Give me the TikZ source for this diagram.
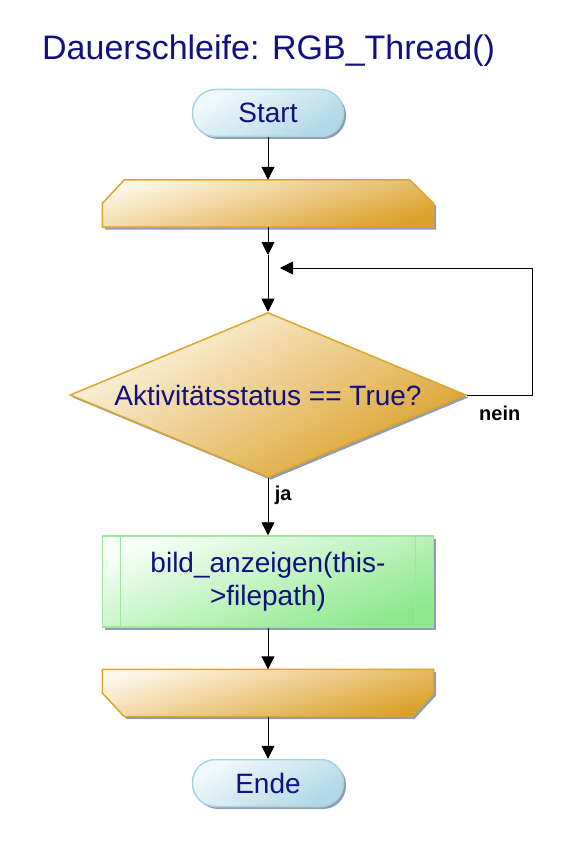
\documentclass[tikz,border=0pt]{standalone}
\usepackage{fontspec}
\setmainfont{Liberation Sans}
\usetikzlibrary{positioning}
\usetikzlibrary{arrows.meta}
\usetikzlibrary{shapes.geometric}
\usetikzlibrary{shadows}
\definecolor{textblau}{RGB}{16,16,128}
\definecolor{termrand}{RGB}{166,212,228}
\definecolor{termhell}{RGB}{242,249,252}
\definecolor{termdunkel}{RGB}{176,216,230}
\definecolor{goldrand}{RGB}{220,165,46}
\definecolor{goldhell}{RGB}{253,247,232}
\definecolor{golddunkel}{RGB}{219,160,40}
\definecolor{gruenrand}{RGB}{157,232,157}
\definecolor{gruenhell}{RGB}{246,255,246}
\definecolor{gruendunkel}{RGB}{140,232,140}
\definecolor{schatten}{RGB}{130,146,166}
\tikzset{flow/.style = {-{Triangle[length=13pt,width=13pt]}, line width=0.9pt},
         schatten/.style = {drop shadow={shadow xshift=2.5pt, shadow yshift=-2.5pt,
                                         fill=schatten, opacity=0.9}},
         txt/.style = {text=textblau, font=\fontsize{28}{33}\selectfont},
         terminal/.style = {txt, schatten, draw=termrand, line width=1.5pt,
                            rounded corners=23pt, minimum width=151pt, minimum height=47pt,
                            top color=termhell, bottom color=termdunkel, shading angle=30},
         schleife/.style = {txt, minimum width=331pt, minimum height=47pt, inner sep=0pt},
         goldform/.style = {schatten, draw=goldrand, line width=1.5pt,
                            top color=goldhell, bottom color=golddunkel, shading angle=15},
         entscheidung/.style = {txt, goldform, diamond, aspect=2.4,
                                minimum width=396pt, minimum height=165pt, inner sep=0pt,
                                shading angle=30},
         prozess/.style = {txt, schatten, draw=gruenrand, line width=1.5pt, align=center,
                           minimum width=331pt, minimum height=91pt,
                           top color=gruenhell, bottom color=gruendunkel, shading angle=20,
                           path picture={
                             \draw[gruenrand, line width=1.2pt]
                               ([xshift=18pt]path picture bounding box.north west) --
                               ([xshift=18pt]path picture bounding box.south west);
                             \draw[gruenrand, line width=1.2pt]
                               ([xshift=-18pt]path picture bounding box.north east) --
                               ([xshift=-18pt]path picture bounding box.south east);}},
         lbl/.style = {font=\fontsize{20}{24}\selectfont\bfseries}}

\begin{document}
\begin{tikzpicture}[x=1pt, y=-1pt]
    \useasboundingbox (0, 0) rectangle (574, 850);
    \node [anchor=base west, text=textblau, font=\fontsize{34}{39}\selectfont, inner sep=0pt]
        (titel) at (42, 60) {Dauerschleife: RGB\_Thread()};
    \node [terminal] (start) at (268, 113) {Start};
    \node [schleife] (anfang) at (268, 203.5) {};
    \path [goldform] (anfang.south west) -- (anfang.west) -- ([xshift=22pt]anfang.north west)
        -- ([xshift=-24pt]anfang.north east) -- (anfang.east) -- (anfang.south east) -- cycle;
    \coordinate (eintritt) at (268, 255);
    \coordinate (rueck) at (280, 268);
    \node [entscheidung] (frage) at (268, 395) {Aktivitätsstatus == True?};
    \node [prozess] (bild) at (268, 581.5) {bild\_anzeigen(this-\\>filepath)};
    \node [schleife] (ende-schleife) at (268, 693) {};
    \path [goldform] (ende-schleife.north west) -- (ende-schleife.west)
        -- ([xshift=22pt]ende-schleife.south west) -- ([xshift=-22pt]ende-schleife.south east)
        -- (ende-schleife.east) -- (ende-schleife.north east) -- cycle;
    \node [terminal] (ende) at (268, 783) {Ende};
    \draw [flow] (start) -- (anfang);
    \draw [flow] (anfang) -- (eintritt);
    \draw [flow] (eintritt) -- (frage);
    \draw [flow] (frage.east) -- node [lbl, below=7pt] (nein) {nein} ++(66, 0) |- (rueck);
    \draw [flow] (frage) -- node [lbl, right=3pt, pos=0.3] (ja) {ja} (bild);
    \draw [flow] (bild) -- (ende-schleife);
    \draw [flow] (ende-schleife) -- (ende);
  \end{tikzpicture}
\end{document}
